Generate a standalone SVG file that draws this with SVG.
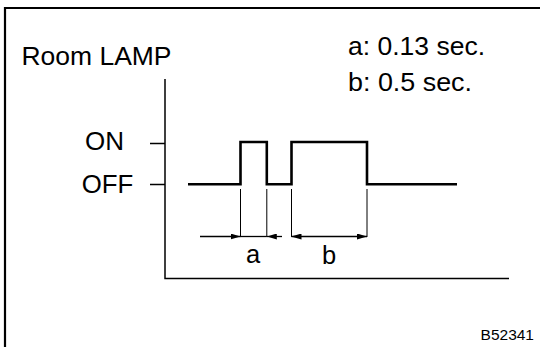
<svg xmlns="http://www.w3.org/2000/svg" width="540" height="347" viewBox="0 0 540 347">
<defs>
<style>
.t{font-family:"Liberation Sans",Arial,sans-serif;fill:#000;font-size:25.5px}
.frame{fill:none;stroke:#000;stroke-width:2.2}
.ax{fill:none;stroke:#000;stroke-width:1.5}
.wave{fill:none;stroke:#000;stroke-width:2.6;stroke-linejoin:miter}
.ext{fill:none;stroke:#000;stroke-width:1}
.dim{fill:none;stroke:#000;stroke-width:1.3}
</style>
<marker id="ah" viewBox="0 0 10 6" refX="10" refY="3" markerWidth="10" markerHeight="6" markerUnits="userSpaceOnUse" orient="auto">
<path d="M0,0 L10,3 L0,6 Z" fill="#000"/>
</marker>
<marker id="ahs" viewBox="0 0 10 6" refX="0" refY="3" markerWidth="10" markerHeight="6" markerUnits="userSpaceOnUse" orient="auto">
<path d="M10,0 L0,3 L10,6 Z" fill="#000"/>
</marker>
</defs>
<rect width="540" height="347" fill="#fff"/>
<g id="frame">
<path class="frame" d="M5,350 L5,8 L545,8"/>
</g>
<g id="texts">
<text class="t" x="21.5" y="65" textLength="150" lengthAdjust="spacingAndGlyphs">Room LAMP</text>
<text class="t" x="348" y="55" textLength="137" lengthAdjust="spacingAndGlyphs">a: 0.13 sec.</text>
<text class="t" x="348" y="91" textLength="124" lengthAdjust="spacingAndGlyphs">b: 0.5 sec.</text>
<text class="t" x="85" y="149.5" textLength="39" lengthAdjust="spacingAndGlyphs">ON</text>
<text class="t" x="81.7" y="193" textLength="51.6" lengthAdjust="spacingAndGlyphs">OFF</text>
<text class="t" x="253" y="263" text-anchor="middle">a</text>
<text class="t" x="329" y="263.5" text-anchor="middle">b</text>
<text class="t" x="534" y="340" style="font-size:15.5px" text-anchor="end">B52341</text>
</g>
<g id="axes">
<path class="ax" d="M165,79 L165,278.5 L509,278.5"/>
<path class="ax" d="M150,143.5 L165,143.5 M150,184.5 L165,184.5"/>
</g>
<g id="waveform">
<path class="wave" d="M188,184.3 L240.5,184.3 L240.5,142 L266.8,142 L266.8,184.3 L291.5,184.3 L291.5,142 L367,142 L367,184.3 L457,184.3"/>
</g>
<g id="connectors">
<path class="ext" d="M240.5,189 L240.5,237 M266.8,189 L266.8,237 M291.5,189 L291.5,237 M367,189 L367,237"/>
<path class="dim" d="M200,236.5 L240.5,236.5" marker-end="url(#ah)"/>
<path class="dim" d="M240.5,236.5 L266.8,236.5"/>
<path class="dim" d="M282,236.5 L266.8,236.5" marker-end="url(#ah)"/>
<path class="dim" d="M291.5,236.5 L367,236.5" marker-start="url(#ahs)" marker-end="url(#ah)"/>
</g>
</svg>
